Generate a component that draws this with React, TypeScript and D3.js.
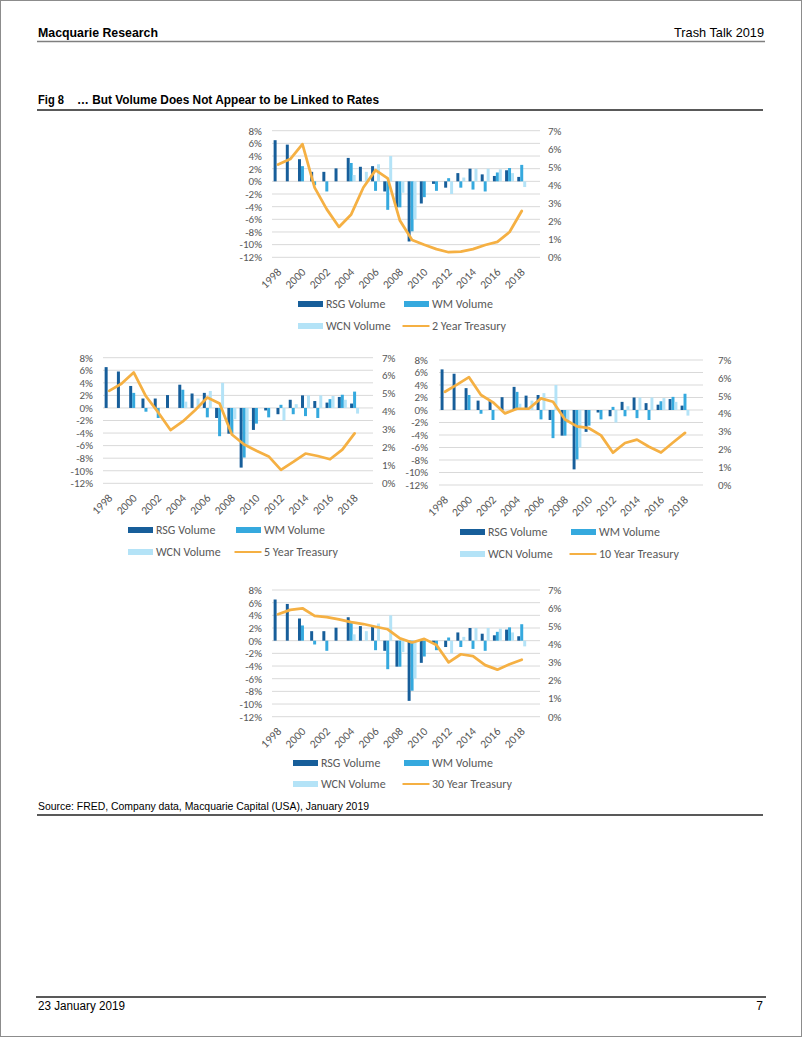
import React from "react";
import * as d3 from "d3";

// ---------- data ----------
const years: string[] = [
  "1998", "1999", "2000", "2001", "2002", "2003", "2004", "2005", "2006", "2007", "2008",
  "2009", "2010", "2011", "2012", "2013", "2014", "2015", "2016", "2017", "2018", "2019",
];
const yearLabels: string[] = ["1998", "2000", "2002", "2004", "2006", "2008", "2010", "2012", "2014", "2016", "2018"];

// annual volume growth, % (2019 empty)
const rsgVolume: (number | null)[] = [6.5, 5.8, 3.5, 1.5, 1.5, 2.05, 3.7, 2.3, 2.4, -1.6, -4.1, -9.5, -3.5, -0.4, -1.0, 1.3, 2.0, 1.1, 0.85, 1.75, 0.7, null];
const wmVolume: (number | null)[] = [null, null, 2.4, -0.6, -1.6, null, 2.9, null, -1.5, -4.5, -4.1, -7.9, -2.5, -1.5, 0.5, -1.0, -1.3, -1.6, 1.4, 2.1, 2.6, null];
const wcnVolume: (number | null)[] = [null, null, null, null, null, null, 1.0, 1.5, 2.7, 4.0, -1.8, -6.0, null, null, -2.0, 0.6, 2.0, 2.0, 1.9, 1.3, -0.9, null];

// treasury yields, % (1998-2018)
const treasury2Y: number[] = [5.13, 5.43, 6.26, 3.85, 2.65, 1.68, 2.37, 3.86, 4.82, 4.36, 2.03, 0.96, 0.69, 0.45, 0.28, 0.31, 0.45, 0.68, 0.85, 1.4, 2.56];
const treasury5Y: number[] = [5.15, 5.55, 6.18, 4.85, 3.95, 2.97, 3.45, 4.07, 4.78, 4.45, 2.72, 2.16, 1.82, 1.5, 0.75, 1.19, 1.66, 1.52, 1.34, 1.88, 2.78];
const treasury10Y: number[] = [5.22, 5.62, 6.04, 5.04, 4.63, 4.01, 4.27, 4.28, 4.85, 4.66, 3.67, 3.28, 3.18, 2.78, 1.81, 2.35, 2.54, 2.14, 1.82, 2.38, 2.92];
const treasury30Y: number[] = [5.66, 5.9, 5.99, 5.57, 5.5, 5.38, 5.23, 5.12, 4.97, 4.83, 4.33, 4.1, 4.3, 3.96, 3.0, 3.45, 3.35, 2.85, 2.6, 2.9, 3.15];

const leftTicks: number[] = [-12, -10, -8, -6, -4, -2, 0, 2, 4, 6, 8];
const rightTicks: number[] = [0, 1, 2, 3, 4, 5, 6, 7];

const seriesNames: string[] = ["RSG Volume", "WM Volume", "WCN Volume"];

// ---------- style ----------
const COLORS = ["#175E9A", "#35A9DE", "#B4E3F7"];
const LINE_COLOR = "#F5B043";
const GRID = "#D9D9D9";
const TXT = "#595959";
const CHART_FONT = "Carlito, Calibri, Lato, sans-serif";
const DOC_FONT = "'Liberation Sans Narrow', 'Arial Narrow', 'Liberation Sans', Arial, sans-serif";

type Panel = {
  label: string;
  rates: number[];
  x0: number; x1: number; y0: number; y1: number;
  leftX: number; rightX: number;
  legC1: number; legC2: number; legR1: number; legR2: number;
};

const panels: Panel[] = [
  { label: "2 Year Treasury", rates: treasury2Y, x0: 272, x1: 540, y0: 130.7, y1: 257.3, leftX: 262, rightX: 548, legC1: 298, legC2: 404, legR1: 304, legR2: 326 },
  { label: "5 Year Treasury", rates: treasury5Y, x0: 103, x1: 373, y0: 357.7, y1: 483.3, leftX: 93, rightX: 382, legC1: 128, legC2: 236, legR1: 530, legR2: 552 },
  { label: "10 Year Treasury", rates: treasury10Y, x0: 439, x1: 703, y0: 360, y1: 485, leftX: 428, rightX: 718, legC1: 460, legC2: 571, legR1: 532, legR2: 554 },
  { label: "30 Year Treasury", rates: treasury30Y, x0: 272, x1: 540, y0: 590, y1: 716.7, leftX: 262, rightX: 548, legC1: 293, legC2: 404, legR1: 763, legR2: 784 },
];

const volumeSeries = [rsgVolume, wmVolume, wcnVolume];

function ChartPanel({ p }: { p: Panel }) {
  const xb = d3.scaleBand<string>().domain(years).range([p.x0, p.x1]).paddingInner(0).paddingOuter(0);
  const bw = xb.bandwidth();
  const xi = d3.scaleBand<number>().domain([0, 1, 2]).range([0, bw]).paddingInner(0).paddingOuter(0.55);
  const yL = d3.scaleLinear().domain([-12, 8]).range([p.y1, p.y0]);
  const yR = d3.scaleLinear().domain([0, 7]).range([p.y1, p.y0]);
  const line = d3
    .line<number>()
    .x((_, i) => (xb(years[i]) as number) + bw / 2)
    .y((d) => yR(d));

  return (
    <g>
      {leftTicks.map((t) => (
        <line key={"g" + t} x1={p.x0} x2={p.x1} y1={yL(t)} y2={yL(t)} stroke={GRID} strokeWidth={1} />
      ))}
      {leftTicks.map((t) => (
        <text key={"l" + t} x={p.leftX} y={yL(t)} dy="0.35em" textAnchor="end" fontSize={11} fill={TXT} fontFamily={CHART_FONT}>
          {t + "%"}
        </text>
      ))}
      {rightTicks.map((t) => (
        <text key={"r" + t} x={p.rightX} y={yR(t)} dy="0.35em" textAnchor="start" fontSize={11} fill={TXT} fontFamily={CHART_FONT}>
          {t + "%"}
        </text>
      ))}
      {volumeSeries.map((vals, si) =>
        vals.map((v, i) => {
          if (v === null) return null;
          const x = (xb(years[i]) as number) + (xi(si) as number);
          const ya = yL(v);
          const yz = yL(0);
          return (
            <rect key={si + "-" + i} x={x} y={Math.min(ya, yz)} width={xi.bandwidth()} height={Math.abs(ya - yz)} fill={COLORS[si]} />
          );
        })
      )}
      <path d={line(p.rates) || ""} fill="none" stroke={LINE_COLOR} strokeWidth={2.75} strokeLinejoin="round" strokeLinecap="round" />
      {yearLabels.map((yr) => {
        const cx = (xb(yr) as number) + bw / 2;
        return (
          <text key={"y" + yr} transform={`translate(${cx + 4},${p.y1 + 15.5}) rotate(-45)`} textAnchor="end" fontSize={11.5} fill={TXT} fontFamily={CHART_FONT}>
            {yr}
          </text>
        );
      })}
      {/* legend */}
      <rect x={p.legC1} y={p.legR1 - 3} width={25} height={6} fill={COLORS[0]} />
      <text x={p.legC1 + 28} y={p.legR1} dy="0.35em" fontSize={12} fill={TXT} fontFamily={CHART_FONT}>{seriesNames[0]}</text>
      <rect x={p.legC2} y={p.legR1 - 3} width={25} height={6} fill={COLORS[1]} />
      <text x={p.legC2 + 28} y={p.legR1} dy="0.35em" fontSize={12} fill={TXT} fontFamily={CHART_FONT}>{seriesNames[1]}</text>
      <rect x={p.legC1} y={p.legR2 - 3} width={25} height={6} fill={COLORS[2]} />
      <text x={p.legC1 + 28} y={p.legR2} dy="0.35em" fontSize={12} fill={TXT} fontFamily={CHART_FONT}>{seriesNames[2]}</text>
      <line x1={p.legC2 - 1.5} x2={p.legC2 + 25.5} y1={p.legR2} y2={p.legR2} stroke={LINE_COLOR} strokeWidth={2} />
      <text x={p.legC2 + 28} y={p.legR2} dy="0.35em" fontSize={12} fill={TXT} fontFamily={CHART_FONT}>{p.label}</text>
    </g>
  );
}

export default function App() {
  return (
    <div style={{ position: "absolute", left: 0, top: 0 }}>
      <svg width={802} height={1037} style={{ display: "block", background: "#fff" }}>
        <rect x={0.5} y={0.5} width={801} height={1036} fill="#fff" stroke="#8c8c8c" strokeWidth={1} />
        {/* header */}
        <text x={38} y={36.5} fontFamily={DOC_FONT} fontWeight="bold" fontSize={13} fill="#000" textLength={120} lengthAdjust="spacingAndGlyphs">Macquarie Research</text>
        <text x={764} y={36.5} fontFamily={DOC_FONT} fontSize={13} fill="#000" textAnchor="end" textLength={90} lengthAdjust="spacingAndGlyphs">Trash Talk 2019</text>
        <line x1={37} x2={765} y1={41.5} y2={41.5} stroke="#7f7f7f" strokeWidth={1.5} />
        <text x={38} y={104} fontFamily={DOC_FONT} fontWeight="bold" fontSize={12} fill="#000" textLength={26} lengthAdjust="spacingAndGlyphs">Fig 8</text>
        <text x={77} y={104} fontFamily={DOC_FONT} fontWeight="bold" fontSize={12} fill="#000" textLength={302} lengthAdjust="spacingAndGlyphs">{"\u2026 But Volume Does Not Appear to be Linked to Rates"}</text>
        <line x1={37} x2={763} y1={110} y2={110} stroke="#222" strokeWidth={1.5} />

        {panels.map((p) => (
          <ChartPanel key={p.label} p={p} />
        ))}

        {/* source */}
        <text x={38} y={810} fontFamily={DOC_FONT} fontSize={11} fill="#000" textLength={331} lengthAdjust="spacingAndGlyphs">Source: FRED, Company data, Macquarie Capital (USA), January 2019</text>
        <line x1={37} x2={763} y1={815} y2={815} stroke="#222" strokeWidth={1.5} />

        {/* footer */}
        <line x1={36} x2={766} y1={997} y2={997} stroke="#222" strokeWidth={1.5} />
        <text x={38} y={1010} fontFamily={DOC_FONT} fontSize={12} fill="#000" textLength={87} lengthAdjust="spacingAndGlyphs">23 January 2019</text>
        <text x={763} y={1010} fontFamily={DOC_FONT} fontSize={12} fill="#000" textAnchor="end">7</text>
      </svg>
    </div>
  );
}
